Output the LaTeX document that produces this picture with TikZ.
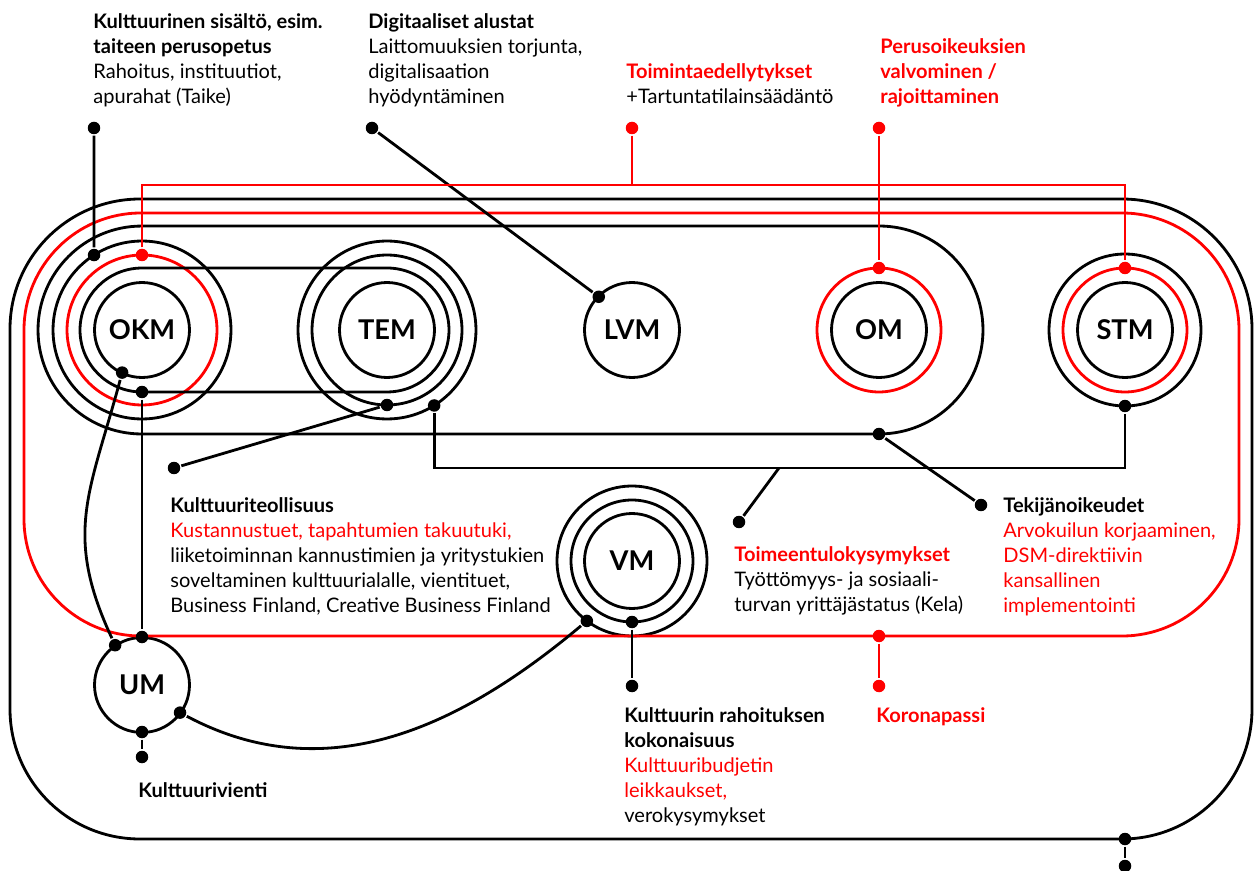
\documentclass[tikz,border=0pt]{standalone}
\usepackage{fontspec}
\setmainfont{Lato}
\usepackage{tikz}
\usetikzlibrary{positioning, calc}

\definecolor{kred}{RGB}{255,0,0}

\tikzset{
  ministry/.style={circle, draw, line width=1.6pt, minimum size=1.9cm, inner sep=0pt,
    font=\fontsize{15.5}{18}\selectfont\bfseries},
  ring/.style={line width=1.6pt},
  redring/.style={line width=1.6pt, draw=kred},
  dot/.style={circle, fill, inner sep=0pt, minimum size=0.25cm},
  reddot/.style={dot, fill=kred},
  note/.style={anchor=north west, inner sep=0pt, align=left,
    font=\fontsize{11.4}{14.2}\selectfont},
}

\begin{document}
\begin{tikzpicture}[x=0.02cm, y=0.02cm, line width=1.6pt]
  \useasboundingbox (0,0) rectangle (1258,-871);

  % Ministries
  \foreach \n/\t/\x/\y in {okm/OKM/142/330, tem/TEM/387/330, lvm/LVM/632/330,
      om/OM/879/330, stm/STM/1125/330, vm/VM/632/561, um/UM/142/685}
    \node[ministry] (\n) at (\x,-\y) {\t};

  % Rings
  \foreach \n/\r in {okm/1.78cm, tem/1.5cm, tem/1.78cm, stm/1.52cm, vm/1.22cm, vm/1.5cm}
    \draw[ring] (\n.center) circle[radius=\r];
  \foreach \n/\r in {okm/1.5cm, om/1.24cm, stm/1.24cm}
    \draw[redring] (\n.center) circle[radius=\r];
  \draw[ring] ($(okm)+(0,62)$) -- ($(tem)+(0,62)$) arc[start angle=90, end angle=-90, radius=1.24cm]
    -- ($(okm)+(0,-62)$) arc[start angle=270, end angle=90, radius=1.24cm] -- cycle;
  \draw[ring] ($(okm)+(0,104)$) -- ($(om)+(0,104)$) arc[start angle=90, end angle=-90, radius=2.08cm]
    -- ($(okm)+(0,-104)$) arc[start angle=270, end angle=90, radius=2.08cm] -- cycle;
  \draw[redring, rounded corners=2.34cm] (24,-213) rectangle (1239,-636);
  \draw[ring, rounded corners=2.6cm] (10,-199) rectangle (1252,-839);

  % Dots
  \node[dot] (dKul) at (94,-128) {};
  \node[dot] (dDig) at (372,-128) {};
  \node[reddot] (dToi) at (632,-128) {};
  \node[reddot] (dPer) at (879,-128) {};
  \node[dot] (okmA) at ($(okm)+(122.6:89)$) {};
  \node[reddot] (okmR) at ($(okm)+(0,75)$) {};
  \node[dot] (okmB) at ($(okm)+(245:47)$) {};
  \node[dot] (okmC) at ($(okm)+(0,-62)$) {};
  \node[dot] (lvmA) at ($(lvm)+(135:47)$) {};
  \node[dot] (temA) at ($(tem)+(0,-75)$) {};
  \node[dot] (temB) at ($(tem)+(-58:89)$) {};
  \node[reddot] (omR) at ($(om)+(0,62)$) {};
  \node[dot] (omB) at ($(om)+(0,-104)$) {};
  \node[reddot] (stmR) at ($(stm)+(0,62)$) {};
  \node[dot] (stmB) at ($(stm)+(0,-76)$) {};
  \node[dot] (dTeo) at (174,-468) {};
  \node[dot] (dToim) at (739,-522) {};
  \node[dot] (dTek) at (981,-505) {};
  \node[dot] (vmA) at ($(vm)+(233:75)$) {};
  \node[dot] (vmB) at ($(vm)+(0,-61)$) {};
  \node[dot] (dRah) at (632,-686) {};
  \node[reddot] (rbot) at (879,-636) {};
  \node[reddot] (dKor) at (879,-686) {};
  \node[dot] (umT) at ($(um)+(0,48)$) {};
  \node[dot] (umL) at ($(um)+(124:48)$) {};
  \node[dot] (umR) at ($(um)+(-36:47)$) {};
  \node[dot] (umB) at ($(um)+(0,-47)$) {};
  \node[dot] (dVie) at (142,-757) {};
  \node[dot] (obot) at (1125,-839) {};
  \node[dot] (dOut) at (1125,-866) {};
  \coordinate (redbar) at (632,-185);
  \coordinate (busj) at (779,-468);

  % Connectors
  \draw (dKul) -- (okmA);
  \draw (dDig) -- (lvmA);
  \draw[kred] (dToi) -- (redbar);
  \draw[kred] (okmR) -- (okmR |- redbar) -| (stmR);
  \draw[kred] (dPer) -- (omR);
  \draw (temA) -- (dTeo);
  \draw (temB) -- (temB |- busj) -| (stmB);
  \draw (busj) -- (dToim);
  \draw (omB) -- (dTek);
  \draw (okmC) -- (umT);
  \draw (okmB) to[out=-105, in=115, looseness=1.15] (umL);
  \draw (umR) to[out=-28, in=-140] (vmA);
  \draw (umB) -- (dVie);
  \draw (vmB) -- (dRah);
  \draw[kred] (rbot) -- (dKor);
  \draw (obot) -- (dOut);

  % Texts
  \node[note] (tKul) at (92,-12) {\textbf{Kulttuurinen sisältö, esim.}\\\textbf{taiteen perusopetus}\\Rahoitus, instituutiot,\\apurahat (Taike)};
  \node[note] (tDig) at (367,-12) {\textbf{Digitaaliset alustat}\\Laittomuuksien torjunta,\\digitalisaation\\hyödyntäminen};
  \node[note] (tToi) at (625,-62) {\textcolor{kred}{\textbf{Toimintaedellytykset}}\\+Tartuntatilainsäädäntö};
  \node[note, text=kred] (tPer) at (879,-37) {\textbf{Perusoikeuksien}\\\textbf{valvominen /}\\\textbf{rajoittaminen}};
  \node[note] (tTeo) at (169,-496) {\textbf{Kulttuuriteollisuus}\\\textcolor{kred}{Kustannustuet, tapahtumien takuutuki,}\\liiketoiminnan kannustimien ja yritystukien\\soveltaminen kulttuurialalle, vientituet,\\Business Finland, Creative Business Finland};
  \node[note] (tToim) at (733,-545) {\textcolor{kred}{\textbf{Toimeentulokysymykset}}\\Työttömyys- ja sosiaali-\\turvan yrittäjästatus (Kela)};
  \node[note] (tTek) at (1002,-496) {\textbf{Tekijänoikeudet}\\\textcolor{kred}{Arvokuilun korjaaminen,}\\\textcolor{kred}{DSM-direktiivin}\\\textcolor{kred}{kansallinen}\\\textcolor{kred}{implementointi}};
  \node[note] (tRah) at (623,-706) {\textbf{Kulttuurin rahoituksen}\\\textbf{kokonaisuus}\\\textcolor{kred}{Kulttuuribudjetin}\\\textcolor{kred}{leikkaukset,}\\verokysymykset};
  \node[note, text=kred] (tKor) at (875,-706) {\textbf{Koronapassi}};
  \node[note] (tVie) at (137,-781) {\textbf{Kulttuurivienti}};
\end{tikzpicture}
\end{document}
